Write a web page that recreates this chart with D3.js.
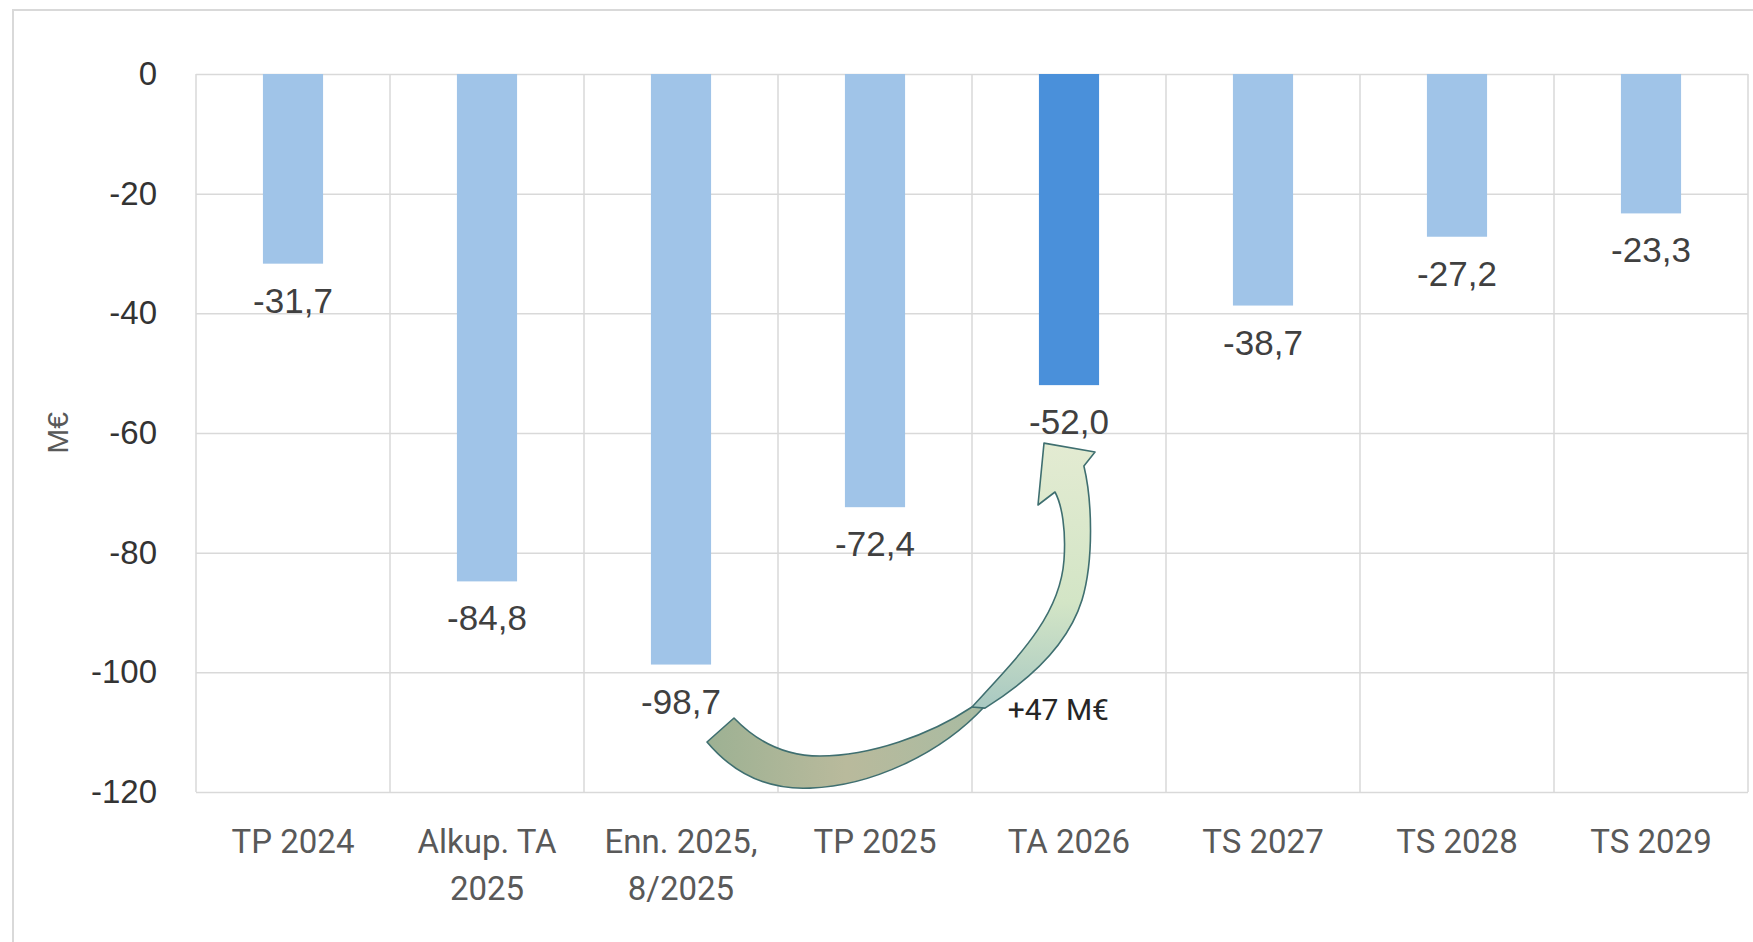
<!DOCTYPE html>
<html lang="fi">
<head>
<meta charset="utf-8">
<script src="https://cdn.jsdelivr.net/npm/d3@7"></script>
<style>
  body { margin: 0; background: #fff; }
  svg { display: block; }
</style>
</head>
<body>
<svg width="1753" height="942"></svg>
<script>
// data
var categories = ["TP 2024", "Alkup. TA 2025", "Enn. 2025, 8/2025", "TP 2025", "TA 2026", "TS 2027", "TS 2028", "TS 2029"];
var categoryLines = [["TP 2024"], ["Alkup. TA", "2025"], ["Enn. 2025,", "8/2025"], ["TP 2025"], ["TA 2026"], ["TS 2027"], ["TS 2028"], ["TS 2029"]];
var values = [-31.7, -84.8, -98.7, -72.4, -52.0, -38.7, -27.2, -23.3];
var highlighted = ["TA 2026"];
var yTicks = [0, -20, -40, -60, -80, -100, -120];
var yTitle = "M€";
var arrowLabel = "+47 M€";

var svg = d3.select("svg");
var plotL = 196, plotR = 1748, plotT = 74, plotB = 792;

var fi = d3.formatLocale({decimal: ",", thousands: " ", grouping: [3], currency: ["", " €"], minus: "-"});
var fmt1 = fi.format(".1f"), fmt0 = fi.format("d");

var xScale = d3.scaleBand().domain(categories).range([plotL, plotR]).padding(0);
var yScale = d3.scaleLinear().domain([0, -120]).range([plotT, plotB]);
var step = xScale.step();

// outer frame
svg.append("rect")
    .attr("x", 13).attr("y", 10)
    .attr("width", 1800).attr("height", 1000)
    .attr("fill", "none").attr("stroke", "#d9d9d9").attr("stroke-width", 2);

// horizontal grid + tick labels
var yAxis = svg.append("g")
    .attr("transform", "translate(" + plotL + ",0)")
    .call(d3.axisLeft(yScale).tickValues(yTicks).tickSize(-(plotR - plotL)).tickPadding(39).tickFormat(fmt0));
yAxis.select(".domain").remove();
yAxis.selectAll("line").attr("stroke", "#d9d9d9").attr("stroke-width", 1.5);
yAxis.selectAll("text")
    .attr("font-family", "Liberation Sans, Arial, sans-serif")
    .attr("font-size", 33).attr("fill", "#333");

// vertical grid at category boundaries
var bounds = categories.map(function(c) { return xScale(c); }).concat([plotR]);
svg.append("g").selectAll("line")
    .data(bounds).enter().append("line")
    .attr("x1", function(d) { return d; }).attr("x2", function(d) { return d; })
    .attr("y1", plotT).attr("y2", plotB)
    .attr("stroke", "#d9d9d9").attr("stroke-width", 1.5);

// bars
var barW = step * 0.31;
svg.append("g").selectAll("rect")
    .data(values).enter().append("rect")
    .attr("x", function(d, i) { return xScale(categories[i]) + (step - barW) / 2; })
    .attr("y", yScale(0))
    .attr("width", barW)
    .attr("height", function(d) { return yScale(d) - yScale(0); })
    .attr("fill", function(d, i) { return highlighted.indexOf(categories[i]) >= 0 ? "#4a90da" : "#a0c4e8"; });

// value labels
svg.append("g").selectAll("text")
    .data(values).enter().append("text")
    .attr("x", function(d, i) { return xScale(categories[i]) + step / 2; })
    .attr("y", function(d) { return yScale(d) + 49; })
    .attr("text-anchor", "middle")
    .attr("font-family", "Liberation Sans, Arial, sans-serif")
    .attr("font-size", 35).attr("fill", "#404040")
    .text(function(d) { return fmt1(d); });

// category labels
var cat = svg.append("g").selectAll("text")
    .data(categoryLines).enter().append("text")
    .attr("x", function(d, i) { return xScale(categories[i]) + step / 2; })
    .attr("y", plotB + 61)
    .attr("text-anchor", "middle")
    .attr("font-family", "Roboto, sans-serif")
    .attr("font-size", 33).attr("fill", "#595959");
cat.selectAll("tspan")
    .data(function(d) { return d; }).enter().append("tspan")
    .attr("x", function() { return d3.select(this.parentNode).attr("x"); })
    .attr("dy", function(d, i) { return i === 0 ? 0 : 47; })
    .text(function(d) { return d; });

// y title
svg.append("text")
    .attr("transform", "translate(68," + ((plotT + plotB) / 2) + ") rotate(-90)")
    .attr("text-anchor", "middle")
    .attr("font-family", "Liberation Sans, Arial, sans-serif")
    .attr("font-size", 30).attr("fill", "#595959")
    .text(yTitle);

// curved arrow annotation, points in chart units (category steps, value)
function P(u, v) { return (plotL + u * step).toFixed(1) + "," + yScale(v).toFixed(1); }

var defs = svg.append("defs");
var g1 = defs.append("linearGradient").attr("id", "backFace").attr("x1", "0").attr("x2", "1").attr("y1", "0").attr("y2", "0");
g1.append("stop").attr("offset", "0%").attr("stop-color", "#9db193");
g1.append("stop").attr("offset", "50%").attr("stop-color", "#b9ba9c");
g1.append("stop").attr("offset", "100%").attr("stop-color", "#a8bba2");
var g2 = defs.append("linearGradient").attr("id", "frontFace").attr("x1", "0").attr("x2", "0").attr("y1", "1").attr("y2", "0");
g2.append("stop").attr("offset", "0%").attr("stop-color", "#a9c9c2");
g2.append("stop").attr("offset", "40%").attr("stop-color", "#d3e5c6");
g2.append("stop").attr("offset", "100%").attr("stop-color", "#e3ebd2");

var backPath = "M" + P(2.634, -111.65) +
    " C" + P(2.778, -117.17) + " " + P(2.959, -119.67) + " " + P(3.165, -119.34) +
    " C" + P(3.474, -119.0) + " " + P(3.835, -113.82) + " " + P(4.067, -105.63) +
    " L" + P(4.0, -105.80) +
    " C" + P(3.784, -110.48) + " " + P(3.474, -113.99) + " " + P(3.216, -113.99) +
    " C" + P(3.036, -113.99) + " " + P(2.892, -111.65) + " " + P(2.773, -107.64) + " Z";

var frontPath = "M" + P(4.0, -105.80) +
    " C" + P(4.247, -97.11) + " " + P(4.454, -90.42) + " " + P(4.474, -81.23) +
    " C" + P(4.485, -76.22) + " " + P(4.464, -72.04) + " " + P(4.428, -69.86) +
    " L" + P(4.340, -72.04) +
    " L" + P(4.371, -61.68) +
    " L" + P(4.634, -63.18) +
    " L" + P(4.577, -65.52) +
    " C" + P(4.619, -71.2) + " " + P(4.629, -81.23) + " " + P(4.567, -87.92) +
    " C" + P(4.495, -95.44) + " " + P(4.299, -101.29) + " " + P(4.067, -105.97) + " Z";

var arrow = svg.append("g")
    .attr("stroke", "#3f6f70").attr("stroke-width", 1.6).attr("stroke-linejoin", "round");
arrow.append("path").attr("d", backPath).attr("fill", "url(#backFace)");
arrow.append("path").attr("d", frontPath).attr("fill", "url(#frontFace)");

svg.append("text")
    .attr("x", plotL + 4.445 * step)
    .attr("y", yScale(-108))
    .attr("text-anchor", "middle")
    .attr("font-family", "Roboto, sans-serif")
    .attr("font-size", 30).attr("fill", "#262626")
    .text(arrowLabel);
</script>
</body>
</html>
